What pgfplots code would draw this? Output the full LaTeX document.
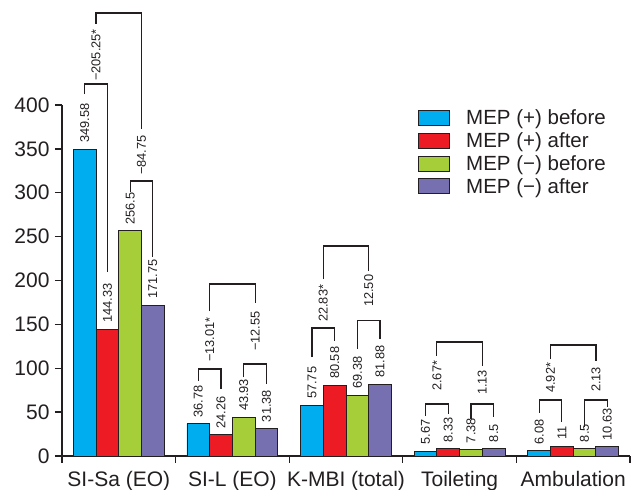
\documentclass[border=0pt]{standalone}
\usepackage{fontspec}
\setmainfont{Liberation Sans}
\usepackage{pgfplots}
\pgfplotsset{compat=1.18}
\usetikzlibrary{calc}
\definecolor{cblue}{RGB}{0,174,239}
\definecolor{cred}{RGB}{237,28,36}
\definecolor{cgreen}{RGB}{166,206,57}
\definecolor{cpurple}{RGB}{118,112,176}
\definecolor{ink}{RGB}{35,31,32}
\newcommand{\brk}[5]{\draw[ink, line width=1.2pt] (axis cs:#1,#2) |- (axis cs:#3,#4) -- (axis cs:#3,#5);}
\newcommand{\dl}[3]{\node[rotate=90, anchor=west, inner sep=0pt, text=ink, font=\fontsize{12.8}{12.8}\selectfont] at (axis cs:#1,#2) {#3};}
\begin{document}
\begin{tikzpicture}
\begin{axis}[
  name=ax,
  scale only axis, width=568pt, height=351pt,
  xmin=-0.5, xmax=4.5, ymin=0, ymax=400,
  enlargelimits=false, clip=false,
  ybar=0pt, bar width=0.2,
  every axis plot/.append style={draw=ink, line width=0.9pt,
    legend image code/.code={\draw[##1, draw=ink, line width=0.9pt] (0pt,-7.5pt) rectangle (31pt,7.5pt); \path (47pt,0pt);}},
  axis lines*=left,
  axis line style={ink, line width=1.3pt},
  tick align=outside, major tick length=7pt,
  tick style={ink, line width=1.3pt},
  ytick={0,50,...,400},
  xtick={-0.5,0.5,1.5,2.5,3.5,4.5}, xticklabels={},
  extra x ticks={0,1,2,3,4},
  extra x tick labels={SI-Sa (EO),SI-L (EO),K-MBI (total),Toileting,Ambulation},
  extra x tick style={major tick length=0pt, tick label style={font=\fontsize{21}{21}\selectfont, text=ink, yshift=-12pt}},
  yticklabel style={font=\fontsize{21}{21}\selectfont, text=ink, xshift=-2pt},
  /pgf/number format/assume math mode=true,
  point meta=explicit symbolic,
  nodes near coords,
  nodes near coords style={rotate=90, anchor=west, inner xsep=6pt, inner ysep=0pt, font=\fontsize{12.8}{12.8}\selectfont, text=ink},
  legend cell align=left,
  legend style={at={(0.627,0.988)}, anchor=north west, draw=none, fill=none,
    inner sep=0pt, column sep=0pt, row sep=6.6pt, nodes={inner sep=0pt},
    font=\fontsize{20.5}{20.5}\selectfont, text=ink},
]
\addplot[fill=cblue] coordinates {(0,349.58)[349.58] (1,36.78)[36.78] (2,57.75)[57.75] (3,5.67)[5.67] (4,6.08)[6.08]};
\addplot[fill=cred] coordinates {(0,144.33)[144.33] (1,24.26)[24.26] (2,80.58)[80.58] (3,8.33)[8.33] (4,11)[11]};
\addplot[fill=cgreen] coordinates {(0,256.5)[256.5] (1,43.93)[43.93] (2,69.38)[69.38] (3,7.38)[7.38] (4,8.5)[8.5]};
\addplot[fill=cpurple] coordinates {(0,171.75)[171.75] (1,31.38)[31.38] (2,81.88)[81.88] (3,8.5)[8.5] (4,10.63)[10.63]};
\legend{MEP (+) before, MEP (+) after, MEP (−) before, MEP (−) after}
% SI-Sa
\brk{-0.3}{412.5}{-0.1}{423.9}{209.7}
\brk{0.1}{300.9}{0.3}{313.4}{226.8}
\brk{-0.2}{492.3}{0.2}{504.8}{372.6}
\dl{-0.2}{427.4}{−205.25*}
\dl{0.2}{320.2}{−84.75}
% SI-L
\brk{0.7}{85.5}{0.9}{99.1}{76.4}
\brk{1.1}{90}{1.3}{104.8}{82}
\brk{0.8}{165}{1.2}{196}{174.4}
\dl{0.8}{107.1}{−13.01*}
\dl{1.2}{119.7}{−12.55}
% K-MBI
\brk{1.7}{112.8}{1.9}{145.9}{131.4}
\brk{2.1}{121.9}{2.3}{154.2}{133.3}
\brk{1.8}{201.7}{2.2}{239.3}{211.2}
\dl{1.8}{152.7}{22.83*}
\dl{2.2}{169.8}{12.50}
% Toileting
\brk{2.7}{45.6}{2.9}{59.3}{47.9}
\brk{3.1}{42.2}{3.3}{59.3}{44.4}
\brk{2.8}{114}{3.2}{129.9}{102.6}
\dl{2.8}{74.1}{2.67*}
\dl{3.2}{69.5}{1.13}
% Ambulation
\brk{3.7}{49}{3.9}{63.8}{38.7}
\brk{4.1}{33}{4.3}{63.8}{55.8}
\brk{3.8}{110.5}{4.2}{126.5}{108.3}
\dl{3.8}{71.8}{4.92*}
\dl{4.2}{72.9}{2.13}
\end{axis}
\pgfresetboundingbox
\path ($(ax.south west)+(-62pt,-34pt)$) rectangle ($(ax.north east)+(2pt,105pt)$);
\end{tikzpicture}
\end{document}
